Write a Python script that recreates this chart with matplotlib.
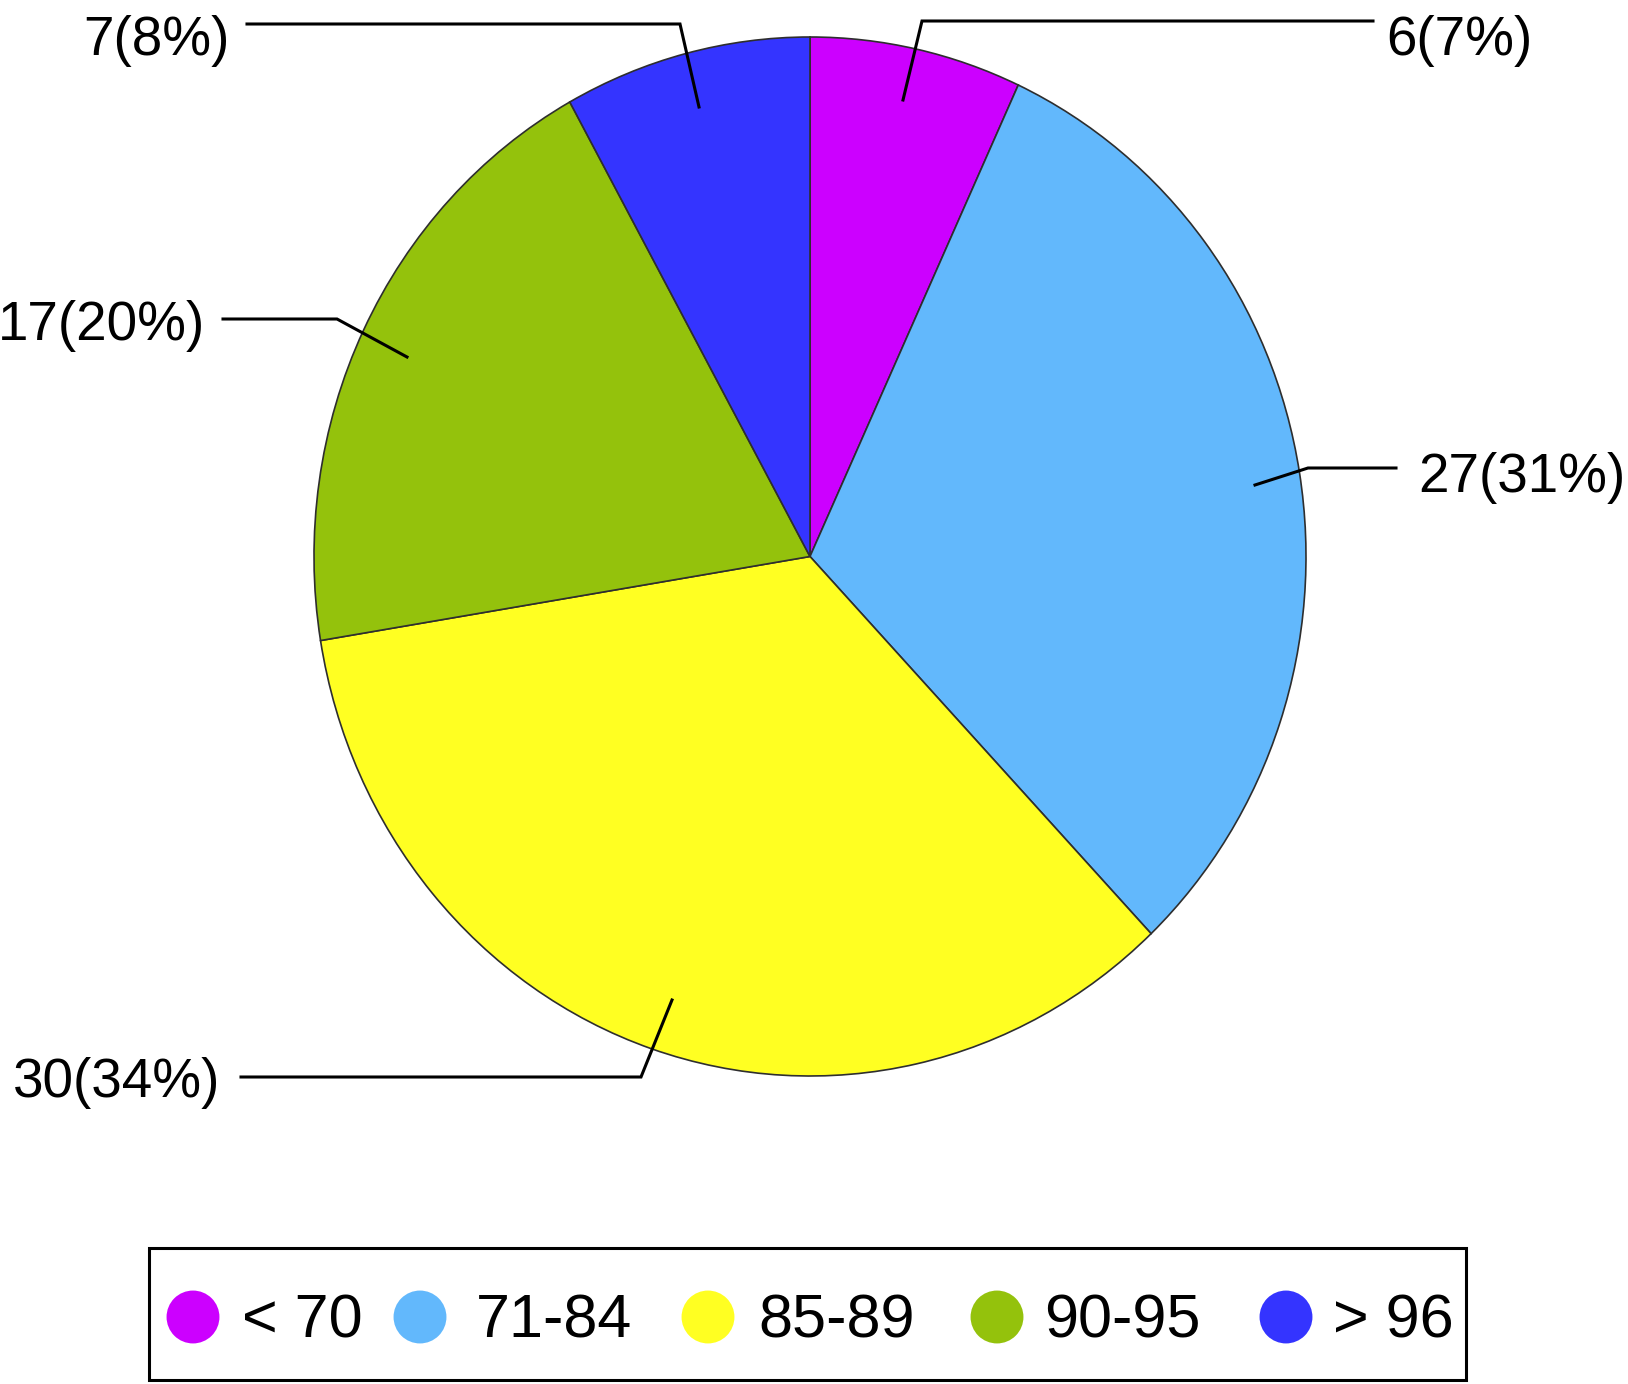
import matplotlib
matplotlib.use("Agg")
import matplotlib.pyplot as plt
from matplotlib.patches import Rectangle

plt.rcParams['font.family'] = ['Liberation Sans', 'DejaVu Sans']

W, H = 1628, 1384  # canvas in pixels, y measured from the top

categories = ['< 70', '71-84', '85-89', '90-95', '> 96']
counts = [6, 27, 30, 17, 7]
percents = [7, 31, 34, 20, 8]
colors = ['#CC00FF', '#62B8FC', '#FFFF22', '#94C20C', '#3434FF']

# pie box in pixels (left, top, right, bottom) - slightly taller than wide, like the original
pie_box = (314, 37, 1306, 1076)

# label layout: text x, alignment, baseline y, leader path (pie end -> elbow -> text end)
label_layout = [
    (1386, 'left', 55, [(903, 100), (922, 21), (1373, 21)]),
    (1418, 'left', 492, [(1255, 485), (1308, 468), (1396, 468)]),
    (220, 'right', 1097, [(672, 1000), (641, 1077), (241, 1077)]),
    (205, 'right', 340, [(407, 357), (337, 319), (223, 319)]),
    (230, 'right', 55, [(699, 107), (680, 24), (247, 24)]),
]

# legend layout: marker centre x, text left x
legend_marker_x = [193, 420, 708, 997, 1286]
legend_text_x = [242, 476, 758, 1044, 1333]
legend_y = 1317


def fy(y):
    return H - y


fig = plt.figure(figsize=(W / 100, H / 100), dpi=100)

# overlay axes in pixel units for labels, leaders and legend
ax = fig.add_axes([0, 0, 1, 1])
ax.set_xlim(0, W)
ax.set_ylim(0, H)
ax.axis('off')

l, t, r, b = pie_box
pax = fig.add_axes([l / W, (H - b) / H, (r - l) / W, (b - t) / H])
pax.pie(counts, colors=colors, startangle=90, counterclock=False,
        radius=1, frame=False,
        wedgeprops=dict(edgecolor='#2e2e2e', linewidth=1.2, clip_on=False))
pax.set_xlim(-1, 1)
pax.set_ylim(-1, 1)
pax.set_aspect('auto')
pax.axis('off')

for c, p, (tx, ha, by, path) in zip(counts, percents, label_layout):
    xs = [pt[0] for pt in path]
    ys = [fy(pt[1]) for pt in path]
    ax.plot(xs, ys, color='black', lw=2.2, solid_joinstyle='miter', zorder=5)
    ax.text(tx, fy(by), f'{c}({p}%)', ha=ha, va='baseline', fontsize=39.5)

# legend box
ax.add_patch(Rectangle((149, fy(1380)), 1466 - 149, 1380 - 1248,
                       fill=False, edgecolor='black', lw=2.2))
for cat, col, mx, tx in zip(categories, colors, legend_marker_x, legend_text_x):
    ax.scatter([mx], [fy(legend_y)], s=1450, color=col, edgecolors='none')
    ax.text(tx, fy(legend_y + 21), cat, ha='left', va='baseline', fontsize=44)

# keep the leader overlay above the pie
ax.set_zorder(2)
pax.set_zorder(1)

fig.savefig('out.png', dpi=100)
